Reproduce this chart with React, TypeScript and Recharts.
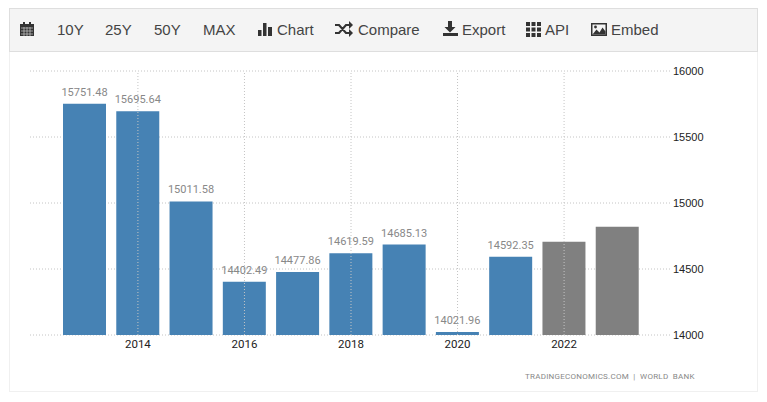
import { Bar, BarChart, CartesianGrid, Cell, LabelList, ReferenceLine, XAxis, YAxis } from "recharts";

const years = [2013, 2014, 2015, 2016, 2017, 2018, 2019, 2020, 2021, 2022, 2023];
const values = [15751.48, 15695.64, 15011.58, 14402.49, 14477.86, 14619.59, 14685.13, 14021.96, 14592.35, 14706, 14820];
const labels = ["15751.48", "15695.64", "15011.58", "14402.49", "14477.86", "14619.59", "14685.13", "14021.96", "14592.35", "", ""];
const forecast = [false, false, false, false, false, false, false, false, false, true, true];
const xTicks = [2014, 2016, 2018, 2020, 2022];
const yTicks = [14000, 14500, 15000, 15500, 16000];

const data = years.map((year, i) => ({ year, value: values[i], label: labels[i] }));

const BLUE = "#4682b4";
const GREY = "#808080";
const GRID = "#c4c4c4";
const ICON = "#333";

function Icon({ x, w, children }: { x: number; w: number; children: React.ReactNode }) {
  return (
    <svg
      width={w}
      height={16}
      viewBox={`0 0 ${w} 16`}
      style={{ position: "absolute", left: x, top: 21 }}
    >
      {children}
    </svg>
  );
}

function Label({ x, text }: { x: number; text: string }) {
  return (
    <span style={{ position: "absolute", left: x, top: 20, lineHeight: "20px", fontSize: 15, color: "#444" }}>
      {text}
    </span>
  );
}

export default function App() {
  return (
    <div
      style={{
        position: "absolute",
        left: 0,
        top: 0,
        width: 767,
        height: 402,
        background: "#fff",
        fontFamily: "'Liberation Sans', sans-serif",
        overflow: "hidden",
      }}
    >
      <div
        style={{
          position: "absolute",
          left: 9,
          top: 8,
          width: 749,
          height: 384,
          boxSizing: "border-box",
          border: "1px solid #f0f0f0",
        }}
      />
      <div
        style={{
          position: "absolute",
          left: 9,
          top: 8,
          width: 749,
          height: 44,
          boxSizing: "border-box",
          background: "#f4f4f4",
          border: "1px solid #dedede",
        }}
      />

      <Icon x={20} w={14}>
        <path d="M0 3h14v12H0zM3 1h2v3H3zM9 1h2v3H9z" fill={ICON} />
        <path d="M1 7h12M1 10h12M1 13h12M4 6v9M7 6v9M10 6v9" stroke="#ccc" strokeWidth={0.7} />
      </Icon>
      <Label x={57} text="10Y" />
      <Label x={105} text="25Y" />
      <Label x={154} text="50Y" />
      <Label x={203} text="MAX" />
      <Icon x={258} w={15}>
        <path d="M0 9h3.500v6H0zM5 2h3.500v13H5zM10 6h4v9h-4z" fill={ICON} />
      </Icon>
      <Label x={277} text="Chart" />
      <Icon x={335} w={18}>
        <path d="M0 4h4l7 8h4M0 12h4l7-8h4" stroke={ICON} strokeWidth={2.2} fill="none" />
        <path d="M14 0l4 4-4 4zM14 8l4 4-4 4z" fill={ICON} />
      </Icon>
      <Label x={358} text="Compare" />
      <Icon x={443} w={15}>
        <path d="M5 0h4v6h3.500L7 11.500 1.500 6H5zM0 12h15v3H0z" fill={ICON} />
      </Icon>
      <Label x={462} text="Export" />
      <Icon x={526} w={15}>
        <path d="M0 1h4v4H0zM5.500 1h4v4h-4zM11 1h4v4h-4zM0 6.500h4v4H0zM5.500 6.500h4v4h-4zM11 6.500h4v4h-4zM0 12h4v4H0zM5.500 12h4v4h-4zM11 12h4v4h-4z" fill={ICON} />
      </Icon>
      <Label x={545} text="API" />
      <Icon x={591} w={16}>
        <path d="M0 2h16v13H0z" fill={ICON} />
        <path d="M1.500 3.500h13v10h-13z" fill="#f4f4f4" />
        <path d="M1.500 13.500l4-5 3 3 3-5 3 4v3z" fill={ICON} />
        <circle cx={4.500} cy={6} r={1.400} fill={ICON} />
      </Icon>
      <Label x={611} text="Embed" />

      <div style={{ position: "absolute", left: 0, top: 0 }}>
        <BarChart
          width={767}
          height={402}
          data={data}
          barSize={43}
          margin={{ top: 71, right: 0, bottom: 37, left: 30 }}
        >
          <CartesianGrid stroke={GRID} strokeDasharray="1 2" vertical={false} />
          {xTicks.map((year) => (
            <ReferenceLine key={year} x={year} stroke={GRID} strokeDasharray="1 2" />
          ))}
          <XAxis
            dataKey="year"
            ticks={xTicks}
            interval={0}
            height={30}
            padding={{ left: 28, right: 26 }}
            axisLine={false}
            tickLine={false}
            tickSize={0}
            tickMargin={5}
            tick={{ fontSize: 11.5, fill: "#222", fontFamily: "Roboto, sans-serif" }}
          />
          <YAxis
            orientation="right"
            width={97}
            domain={[14000, 16000]}
            ticks={yTicks}
            axisLine={false}
            tickLine={false}
            tickSize={0}
            tickMargin={3}
            tick={{ fontSize: 11, fill: "#222", fontFamily: "'Liberation Sans', sans-serif" }}
          />
          <Bar dataKey="value" isAnimationActive={false}>
            {data.map((_, i) => (
              <Cell key={i} fill={forecast[i] ? GREY : BLUE} />
            ))}
            <LabelList
              dataKey="label"
              position="top"
              offset={8}
              fontSize={11}
              fill="#888"
              fontFamily="Roboto, sans-serif"
            />
          </Bar>
        </BarChart>
      </div>

      <div
        style={{
          position: "absolute",
          left: 525,
          top: 371,
          fontSize: 8,
          lineHeight: "12px",
          letterSpacing: 0.25,
          color: "#888",
          whiteSpace: "pre",
          fontFamily: "Roboto, sans-serif",
        }}
      >
        TRADINGECONOMICS.COM  |  WORLD  BANK
      </div>
    </div>
  );
}
